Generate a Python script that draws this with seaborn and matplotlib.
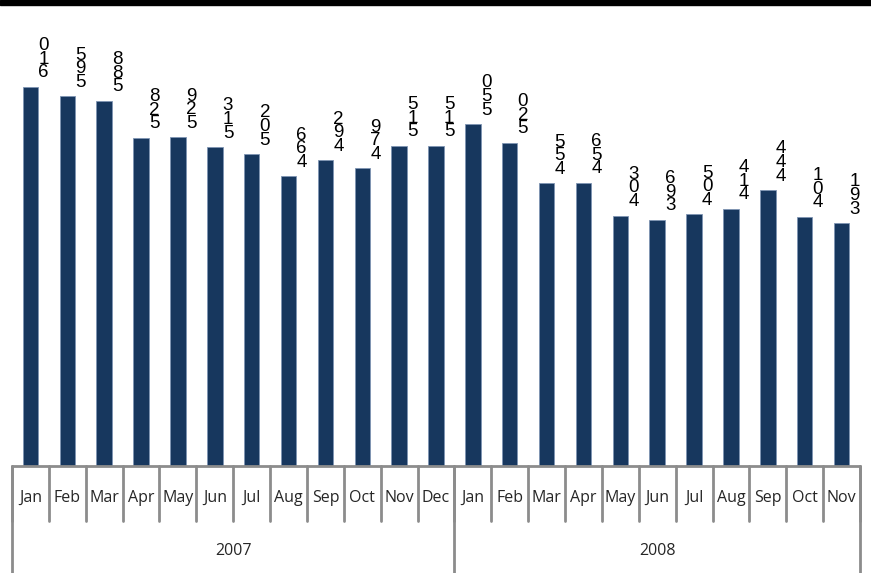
import matplotlib
matplotlib.use("Agg")
import matplotlib.pyplot as plt
import seaborn as sns
import pandas as pd
from matplotlib.patches import Rectangle

months_2007 = ["Jan", "Feb", "Mar", "Apr", "May", "Jun", "Jul", "Aug", "Sep", "Oct", "Nov", "Dec"]
months_2008 = ["Jan", "Feb", "Mar", "Apr", "May", "Jun", "Jul", "Aug", "Sep", "Oct", "Nov"]
values_2007 = [610, 595, 588, 528, 529, 513, 502, 466, 492, 479, 515, 515]
values_2008 = [550, 520, 455, 456, 403, 396, 405, 414, 444, 401, 391]
years = ["2007", "2008"]

months = months_2007 + months_2008
vals = values_2007 + values_2008
yr = [years[0]] * len(months_2007) + [years[1]] * len(months_2008)
keys = [f"{y}-{m}" for y, m in zip(yr, months)]
df = pd.DataFrame({"key": keys, "value": vals, "month": months, "year": yr})

sns.set_theme(style="white")
plt.rcParams["font.family"] = ["Liberation Sans", "DejaVu Sans"]

W, H = 871, 573
fig = plt.figure(figsize=(W / 100, H / 100), dpi=100)
x0, x1 = 12, 860
ybase, ytop = 466, 5
ax = fig.add_axes([x0 / W, (H - ybase) / H, (x1 - x0) / W, (ybase - ytop) / H])

sns.barplot(data=df, x="key", y="value", order=keys, color="#17375E", width=0.42,
            saturation=1, ax=ax, edgecolor="#7f95b3", linewidth=0.6)
ax.set_xlim(-0.5, len(keys) - 0.5)
ax.set_ylim(0, 742)
for s in ax.spines.values():
    s.set_visible(False)
ax.set_xticks([])
ax.set_yticks([])
ax.set_xlabel("")
ax.set_ylabel("")

# stacked value labels (digits read bottom-to-top)
for i, v in enumerate(vals):
    txt = "\n".join(reversed(str(v)))
    ax.annotate(txt, (i, v), xytext=(9.5, 4), textcoords="offset points",
                ha="center", va="bottom", fontsize=13.5, linespacing=0.74, color="black")

axh = ybase - ytop
def fy(py):
    return -(py - ybase) / axh

tr = ax.get_xaxis_transform()
gray = "#8c8c8c"
lab_font = ["Open Sans", "DejaVu Sans"]
# axis line
ax.plot([-0.5, len(keys) - 0.5], [0, 0], transform=tr, color=gray, lw=2, clip_on=False)
# month separators
for i in range(len(keys) + 1):
    xp = i - 0.5
    ax.plot([xp, xp], [0, fy(521)], transform=tr, color=gray, lw=2, clip_on=False)
# month labels
for i, m in enumerate(months):
    ax.text(i, fy(498), m, transform=tr, ha="center", va="center", fontsize=11.5,
            family=lab_font)
# year separators and labels
n07 = len(months_2007)
for xp in [-0.5, n07 - 0.5, len(keys) - 0.5]:
    ax.plot([xp, xp], [0, fy(575)], transform=tr, color=gray, lw=2, clip_on=False)
ax.text((n07 - 1) / 2, fy(551), years[0], transform=tr, ha="center", va="center",
        fontsize=11.5, family=lab_font)
ax.text(n07 + (len(months_2008) - 1) / 2, fy(551), years[1], transform=tr, ha="center",
        va="center", fontsize=11.5, family=lab_font)

# black bar at top
fig.patches.append(Rectangle((0, 1 - 5 / H), 1, 5 / H, transform=fig.transFigure,
                             color="black", zorder=10))

fig.savefig("out.png", dpi=100)
